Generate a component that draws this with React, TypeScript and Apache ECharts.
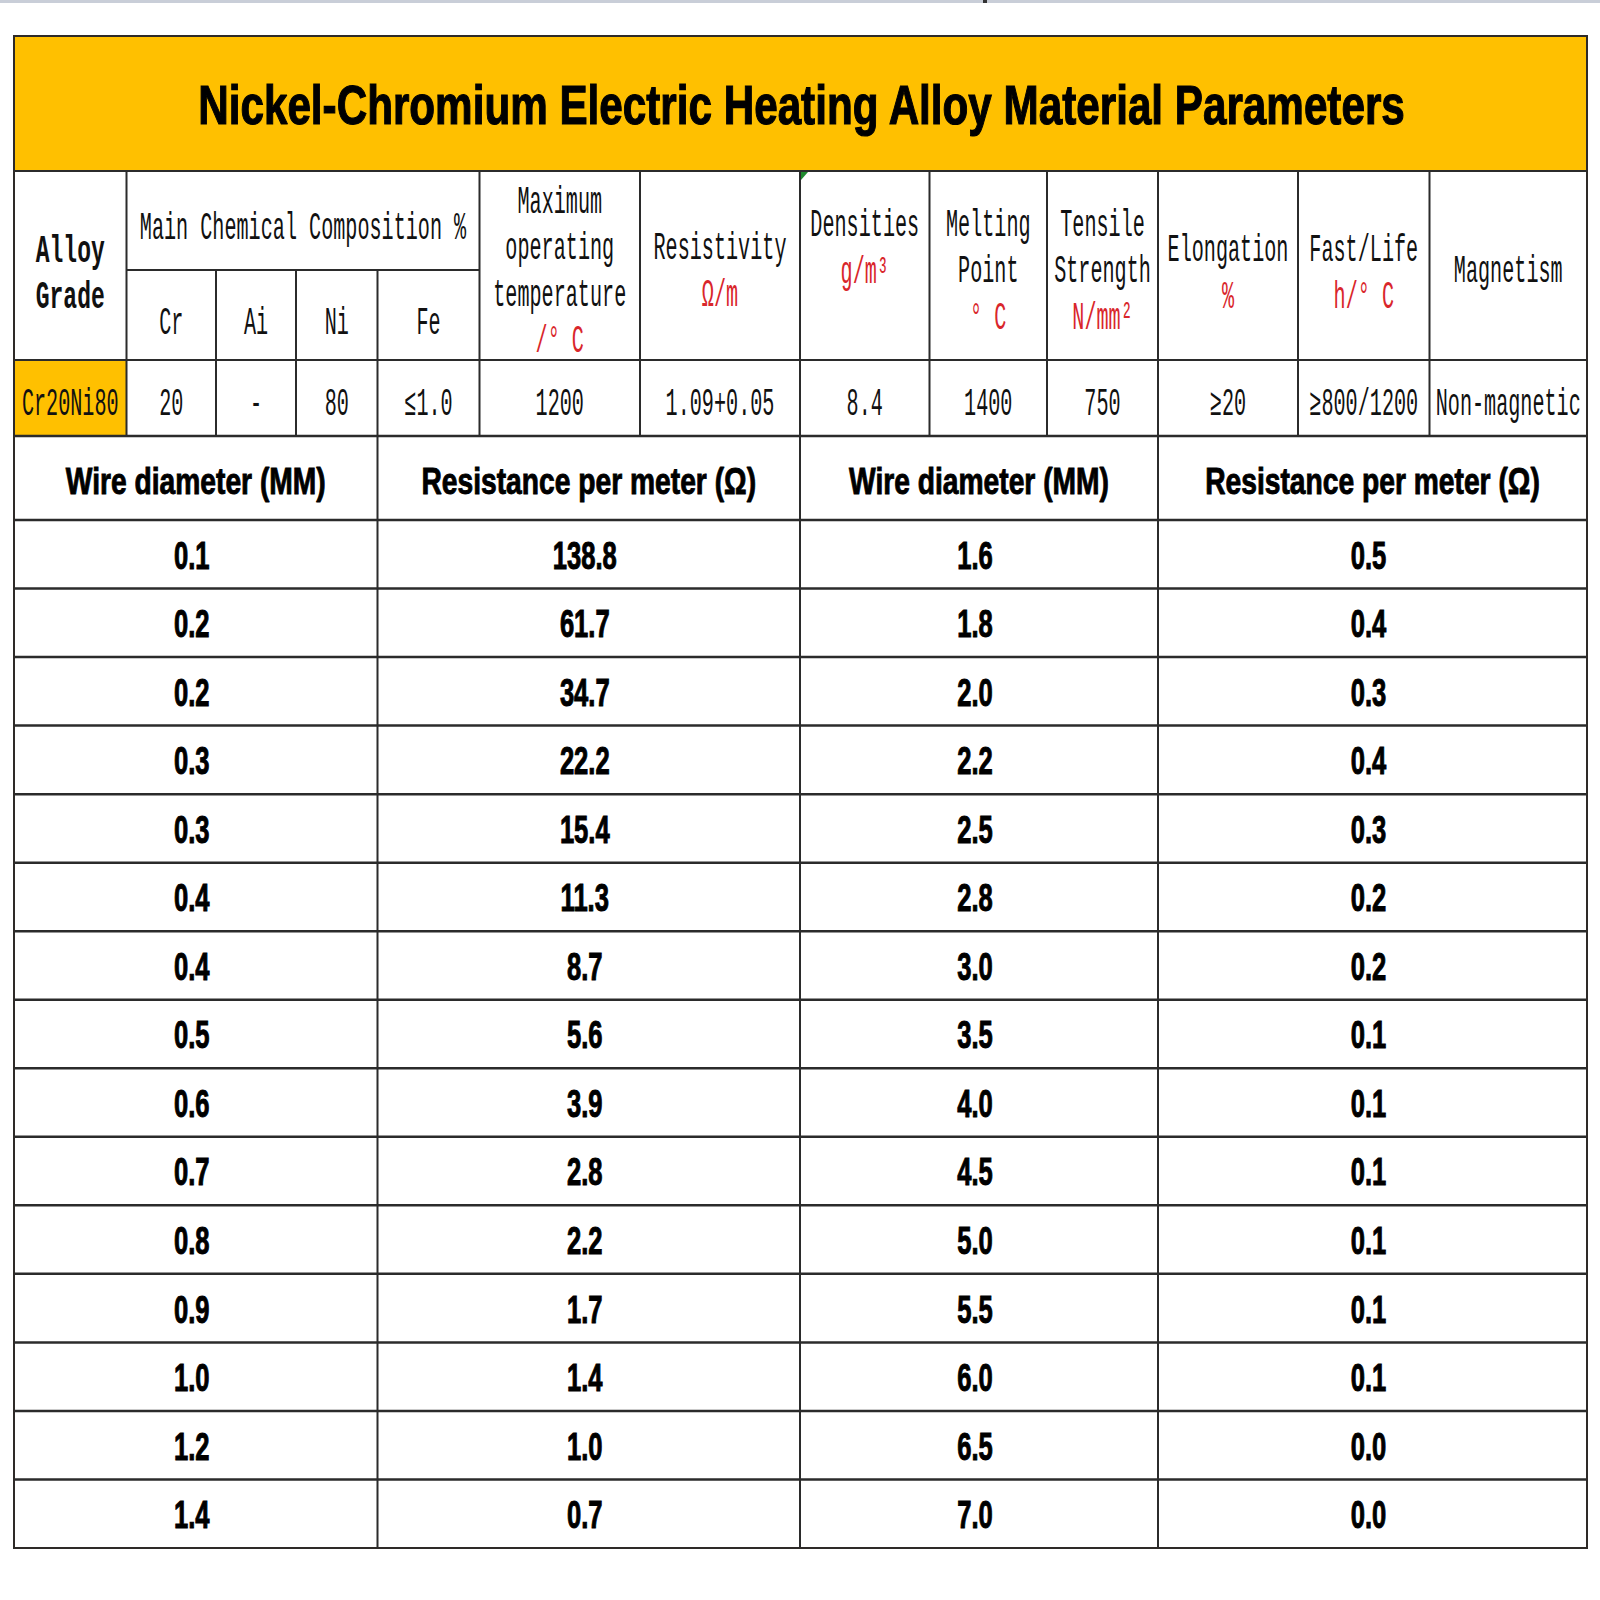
import React, { useEffect, useRef } from 'react';
import * as echarts from 'echarts';

// ---------- data ----------
const titleText = 'Nickel-Chromium Electric Heating Alloy Material Parameters';
const alloyHeaderLines = ['Alloy', 'Grade'];
const compositionTitle = 'Main Chemical Composition %';
const compositionElements = ['Cr', 'Ai', 'Ni', 'Fe'];
const propertyNames = [
  'Maximum\noperating\ntemperature',
  'Resistivity',
  'Densities',
  'Melting\nPoint',
  'Tensile\nStrength',
  'Elongation',
  'Fast/Life',
  'Magnetism',
];
const propertyUnits = ['/° C', 'Ω/m', 'g/m³', '° C', 'N/mm²', '%', 'h/° C', ''];
const alloyRow = ['Cr20Ni80', '20', '-', '80', '≤1.0', '1200', '1.09+0.05', '8.4', '1400', '750', '≥20', '≥800/1200', 'Non-magnetic'];

const lowerHeaders = ['Wire diameter (MM)', 'Resistance per meter (Ω)', 'Wire diameter (MM)', 'Resistance per meter (Ω)'];
const wireDiameterLeft = ['0.1', '0.2', '0.2', '0.3', '0.3', '0.4', '0.4', '0.5', '0.6', '0.7', '0.8', '0.9', '1.0', '1.2', '1.4'];
const resistanceLeft = ['138.8', '61.7', '34.7', '22.2', '15.4', '11.3', '8.7', '5.6', '3.9', '2.8', '2.2', '1.7', '1.4', '1.0', '0.7'];
const wireDiameterRight = ['1.6', '1.8', '2.0', '2.2', '2.5', '2.8', '3.0', '3.5', '4.0', '4.5', '5.0', '5.5', '6.0', '6.5', '7.0'];
const resistanceRight = ['0.5', '0.4', '0.3', '0.4', '0.3', '0.2', '0.2', '0.1', '0.1', '0.1', '0.1', '0.1', '0.1', '0.0', '0.0'];

// ---------- layout ----------
const COLX = [14, 126.5, 216, 296, 377.5, 479.5, 640, 800, 929.5, 1047, 1158, 1298, 1429.5, 1587];
const LX = [14, 377.5, 800, 1158, 1587];
const TOP = 36, TITLE_B = 171, SUB_Y = 270, HEAD_B = 360, ROW1_B = 436, LHEAD_B = 520, BOTTOM = 1548;
const propBlockCenter = [268, 268, 245, 268, 268, 270, 270, 268];
const LINE_GAP = 46.5;
const MONO_DY = 4.5;

const YELLOW = '#FFC000';
const LINE = '#2b2b2b';
const RED = '#d9262b';
const MONO = '"Liberation Mono", "DejaVu Sans Mono", monospace';
const SANS = '"Liberation Sans Narrow", "Liberation Sans", Arial, sans-serif';

let ctx: CanvasRenderingContext2D | null = null;
function measure(t: string, size: number, family: string, weight: string) {
  if (!ctx) ctx = document.createElement('canvas').getContext('2d');
  ctx!.font = `${weight} ${size}px ${family}`;
  return ctx!.measureText(t).width;
}

type TS = { size: number; family: string; weight: string; sx: number; stroke: number };
function makeStyle(size: number, family: string, weight: string, ref: string, target: number, stroke = 0): TS {
  return { size, family, weight, sx: target / measure(ref, size, family, weight), stroke };
}

function txt(text: string, x: number, y: number, s: TS, color = '#111') {
  const style: any = {
    text,
    fill: color,
    fontSize: s.size,
    fontFamily: s.family,
    fontWeight: s.weight,
    align: 'center',
    verticalAlign: 'middle',
  };
  if (s.stroke > 0) {
    style.stroke = color;
    style.lineWidth = s.stroke;
  }
  return { type: 'text', x, y, scaleX: s.sx, silent: true, style };
}

function hline(x1: number, x2: number, y: number, w = 2) {
  return { type: 'line', silent: true, shape: { x1, y1: y, x2, y2: y }, style: { stroke: LINE, lineWidth: w } };
}
function vline(x: number, y1: number, y2: number, w = 2) {
  return { type: 'line', silent: true, shape: { x1: x, y1, x2: x, y2 }, style: { stroke: LINE, lineWidth: w } };
}

function buildGraphic() {
  const titleS = makeStyle(56, SANS, 'bold', titleText, 1209, 1.2);
  const monoS = makeStyle(38, MONO, 'normal', compositionTitle, 326.5);
  const monoB = makeStyle(38, MONO, 'bold', 'Alloy', 69);
  const headS = makeStyle(36, SANS, 'bold', lowerHeaders[0], 260, 0.9);
  const dataS = makeStyle(38, SANS, 'bold', '138.8', 64, 1);

  const els: any[] = [];
  // top screenshot strip
  els.push({ type: 'rect', silent: true, shape: { x: 0, y: 0, width: 1600, height: 3 }, style: { fill: '#c9ced8' } });
  els.push({ type: 'rect', silent: true, shape: { x: 983, y: 0, width: 4, height: 3 }, style: { fill: '#333' } });

  // backgrounds
  els.push({ type: 'rect', silent: true, shape: { x: COLX[0], y: TOP, width: COLX[13] - COLX[0], height: TITLE_B - TOP }, style: { fill: YELLOW } });
  els.push({ type: 'rect', silent: true, shape: { x: COLX[0], y: HEAD_B, width: COLX[1] - COLX[0], height: ROW1_B - HEAD_B }, style: { fill: YELLOW } });

  // grid lines
  els.push(hline(COLX[0], COLX[13], TITLE_B));
  els.push(hline(COLX[1], COLX[5], SUB_Y));
  els.push(hline(COLX[0], COLX[13], HEAD_B));
  els.push(hline(COLX[0], COLX[13], ROW1_B, 2.5));
  els.push(hline(COLX[0], COLX[13], LHEAD_B, 2.5));
  const rowH = (BOTTOM - LHEAD_B) / wireDiameterLeft.length;
  for (let k = 1; k < wireDiameterLeft.length; k++) els.push(hline(COLX[0], COLX[13], LHEAD_B + rowH * k, 2.5));
  for (let i = 1; i < 13; i++) {
    const sub = i >= 2 && i <= 4;
    els.push(vline(COLX[i], sub ? SUB_Y : TITLE_B, ROW1_B));
  }
  for (let i = 1; i < LX.length - 1; i++) els.push(vline(LX[i], ROW1_B, BOTTOM));
  els.push({ type: 'rect', silent: true, shape: { x: COLX[0], y: TOP, width: COLX[13] - COLX[0], height: BOTTOM - TOP }, style: { fill: 'none', stroke: '#2e2a28', lineWidth: 2 } });
  // comment marker
  els.push({ type: 'polygon', silent: true, shape: { points: [[801, 172], [808, 172], [801, 180]] }, style: { fill: '#1e8a2e' } });

  // title
  els.push(txt(titleText, (COLX[0] + COLX[13]) / 2 + 1, 105, titleS, '#000'));

  // upper headers
  const alloyCx = (COLX[0] + COLX[1]) / 2;
  alloyHeaderLines.forEach((t, i) => els.push(txt(t, alloyCx, 247 + MONO_DY + i * LINE_GAP, monoB)));
  els.push(txt(compositionTitle, (COLX[1] + COLX[5]) / 2, 224.5 + MONO_DY, monoS));
  compositionElements.forEach((t, i) => els.push(txt(t, (COLX[1 + i] + COLX[2 + i]) / 2, 320 + MONO_DY, monoS)));
  propertyNames.forEach((name, i) => {
    const lines = name.split('\n');
    const unit = propertyUnits[i];
    const all = unit ? [...lines, unit] : lines;
    const cx = (COLX[5 + i] + COLX[6 + i]) / 2;
    const c = propBlockCenter[i] + MONO_DY;
    all.forEach((t, j) => {
      const y = c + (j - (all.length - 1) / 2) * LINE_GAP;
      const isUnit = unit && j === all.length - 1;
      els.push(txt(t, cx, y, monoS, isUnit ? RED : '#111'));
    });
  });

  // alloy row
  alloyRow.forEach((t, i) => els.push(txt(t, (COLX[i] + COLX[i + 1]) / 2, 400.5 + MONO_DY, monoS)));

  // lower table
  const cols = [wireDiameterLeft, resistanceLeft, wireDiameterRight, resistanceRight];
  lowerHeaders.forEach((t, i) => els.push(txt(t, (LX[i] + LX[i + 1]) / 2, 481.5, headS, '#000')));
  cols.forEach((col, i) => {
    const cx = (LX[i] + LX[i + 1]) / 2 - 4;
    col.forEach((v, r) => els.push(txt(v, cx, LHEAD_B + rowH * (r + 0.5) + 1.5, dataS, '#000')));
  });
  return els;
}

export default function App() {
  const ref = useRef<HTMLDivElement>(null);
  useEffect(() => {
    if (!ref.current) return;
    const chart = echarts.init(ref.current, undefined, { renderer: 'svg' });
    chart.setOption({
      animation: false,
      backgroundColor: '#ffffff',
      graphic: { elements: buildGraphic() },
    });
    return () => chart.dispose();
  }, []);
  return <div ref={ref} style={{ position: 'absolute', left: 0, top: 0, width: 1600, height: 1600, background: '#fff' }} />;
}
